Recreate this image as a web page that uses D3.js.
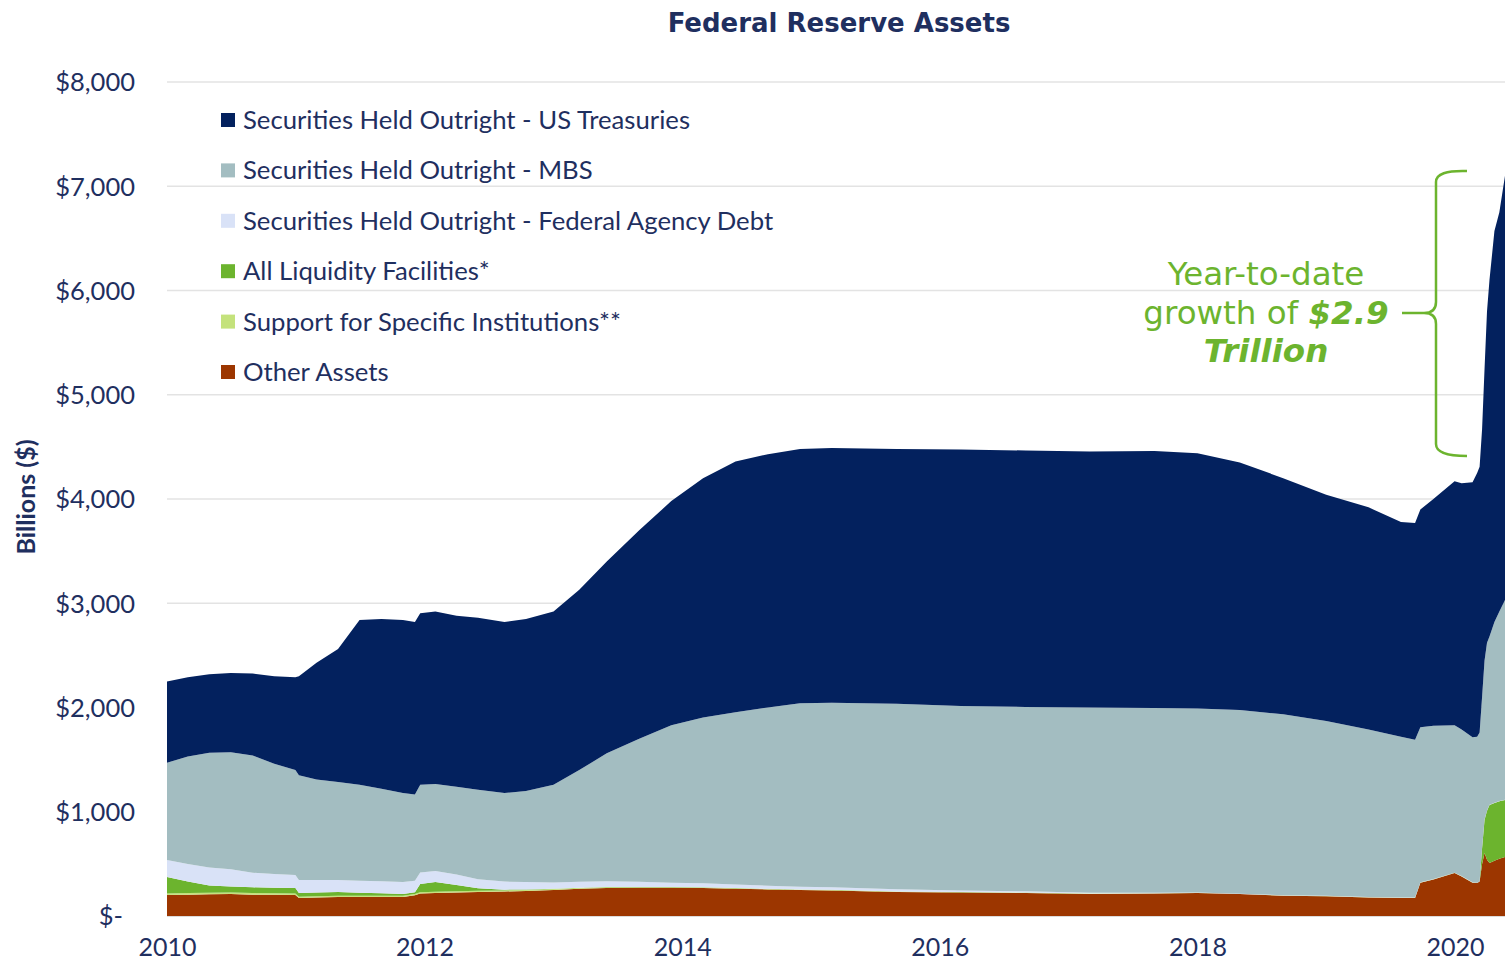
<!DOCTYPE html>
<html>
<head>
<meta charset="utf-8">
<script src="https://cdn.jsdelivr.net/npm/d3@7"></script>
<style>
  html, body { margin: 0; padding: 0; background: #ffffff; overflow: hidden; }
  svg { display: block; }
</style>
</head>
<body>
<svg id="chart" width="1505" height="964"></svg>
<script>
// ---------------- DATA (billions of dollars) ----------------
const dates = ["2010-01-01","2010-03-01","2010-05-01","2010-07-01","2010-09-01","2010-11-01","2010-12-31",
  "2011-01-10","2011-03-01","2011-05-01","2011-07-01","2011-09-01","2011-11-01","2011-12-05","2011-12-20",
  "2012-02-01","2012-04-01","2012-06-01","2012-08-15","2012-10-15","2013-01-01","2013-03-15","2013-06-01",
  "2013-09-01","2013-12-01","2014-03-01","2014-06-01","2014-09-01","2014-12-01","2015-03-01","2015-09-01",
  "2016-03-01","2016-09-01","2017-03-01","2017-09-01","2018-01-01","2018-05-01","2018-09-01","2019-01-01",
  "2019-05-01","2019-08-01","2019-09-10","2019-09-25","2019-11-01","2019-12-31","2020-01-20","2020-02-20",
  "2020-03-04","2020-03-11","2020-03-18","2020-03-25","2020-04-01","2020-04-08","2020-04-22","2020-05-06","2020-05-22"];

const otherAssets = [201,205,208,211,205,203,201,173,178,182,182,182,182,200,215,221,225,230,235,240,250,262,268,270,270,
  268,262,255,249,245,230,225,220,211,215,221,210,195,190,178,173,173,320,350,412,380,320,317,330,500,604,540,508,530,550,566];
const supportInstitutions = [15,15,15,15,15,15,15,12,12,12,12,12,12,12,12,12,12,12,10,10,8,8,8,6,6,6,5,5,5,5,5,4,4,4,3,
  2,2,2,2,2,2,2,2,2,2,2,1,1,1,0,0,0,0,0,0,0];
const liquidityFacilities = [158,110,70,58,55,54,53,36,36,36,30,25,17,15,80,93,60,25,8,5,3,2,2,2,2,1,1,1,1,1,1,1,1,1,1,
  1,0,0,0,0,0,0,0,0,0,0,0,0,0,150,320,470,557,555,550,547];
const agencyDebt = [163,168,172,165,140,130,124,124,120,116,115,115,115,112,110,106,100,86,77,70,60,57,55,50,42,38,35,30,
  26,24,20,15,12,8,4,2,2,2,2,2,2,2,2,2,2,2,2,2,2,2,2,2,2,2,2,2];
const mbs = [933,1032,1100,1121,1125,1058,1007,1005,964,939,921,886,854,826,843,833,843,857,850,875,939,1071,1227,1372,1510,
  1592,1652,1709,1759,1770,1779,1770,1768,1776,1772,1764,1761,1736,1676,1608,1543,1513,1486,1471,1414,1406,1392,1400,1427,
  1448,1524,1608,1613,1733,1818,1915];
const treasuries = [780,760,755,760,785,840,890,950,1120,1275,1580,1630,1660,1655,1645,1655,1640,1650,1640,1650,1660,1730,
  1840,2000,2150,2295,2405,2430,2440,2445,2445,2460,2460,2455,2465,2450,2375,2265,2170,2130,2060,2080,2090,2175,2340,2360,
  2445,2530,2550,2570,2800,3180,3420,3750,3830,4070];

const seriesNames = ["Securities Held Outright - US Treasuries","Securities Held Outright - MBS",
  "Securities Held Outright - Federal Agency Debt","All Liquidity Facilities*",
  "Support for Specific Institutions**","Other Assets"];
const yTicks = [0,1000,2000,3000,4000,5000,6000,7000,8000];
const xTickYears = [2010,2012,2014,2016,2018,2020];
const title = "Federal Reserve Assets";
const yTitle = "Billions ($)";

// ---------------- BUILD ----------------
const parse = d3.timeParse("%Y-%m-%d");
const keys = ["other","support","liquidity","agency","mbs","treasuries"];
const colors = {
  treasuries: "#03215e", mbs: "#a3bdc1", agency: "#d9e2f7",
  liquidity: "#6cb42e", support: "#c4e27c", other: "#9c3600"
};
const legendKeys = ["treasuries","mbs","agency","liquidity","support","other"];

const rows = dates.map((d,i) => ({
  date: parse(d), other: otherAssets[i], support: supportInstitutions[i], liquidity: liquidityFacilities[i],
  agency: agencyDebt[i], mbs: mbs[i], treasuries: treasuries[i]
}));

const svg = d3.select("#chart");
const navy = "#1f2f5f";
const labelFont = "Lato, 'Open Sans', sans-serif";

const x = d3.scaleTime().domain([parse("2010-01-01"), parse("2020-05-22")]).range([167, 1505]);
const y = d3.scaleLinear().domain([0, 8000]).range([916, 82]);

// gridlines
svg.append("g").selectAll("line").data(yTicks).join("line")
  .attr("x1", 167).attr("x2", 1505)
  .attr("y1", d => y(d)).attr("y2", d => y(d))
  .attr("stroke", d => d === 0 ? "#cfcfcf" : "#e3e3e3").attr("stroke-width", 1.5);

// stacked areas
const stack = d3.stack().keys(keys);
const layers = stack(rows);
const area = d3.area().x(d => x(d.data.date)).y0(d => y(d[0])).y1(d => y(d[1]));
svg.append("g").selectAll("path").data(layers).join("path")
  .attr("d", area).attr("fill", d => colors[d.key]);

// y axis labels
const yAxis = d3.axisLeft(y).tickValues(yTicks).tickSize(0).tickPadding(0)
  .tickFormat(d => d === 0 ? "$-" : "$" + d3.format(",")(d));
const gy = svg.append("g").attr("transform", "translate(135,0)").call(yAxis);
gy.select(".domain").remove();
gy.selectAll("text").attr("fill", navy).style("font-family", labelFont)
  .style("font-size", "25.5px").attr("dy", "0.35em")
  .attr("x", d => d === 0 ? -12 : 0);

// x axis labels
const xAxis = d3.axisBottom(x).tickValues(xTickYears.map(yr => new Date(yr, 0, 1)))
  .tickSize(0).tickPadding(0).tickFormat(d3.timeFormat("%Y"));
const gx = svg.append("g").attr("transform", "translate(0,947)").call(xAxis);
gx.select(".domain").remove();
gx.selectAll("text").attr("fill", navy).style("font-family", labelFont)
  .style("font-size", "25px").attr("y", 0).attr("dy", "0.35em");

// title
svg.append("text").attr("x", 839).attr("y", 32).attr("text-anchor", "middle")
  .attr("fill", navy).style("font-family", "'DejaVu Sans', Verdana, sans-serif")
  .style("font-weight", "bold").style("font-size", "26px").text(title);

// y title
svg.append("text").attr("transform", "translate(35,497) rotate(-90)").attr("text-anchor", "middle")
  .attr("fill", navy).style("font-family", labelFont)
  .style("font-weight", "bold").style("font-size", "25px").text(yTitle);

// legend
const lg = svg.append("g");
legendKeys.forEach((k, i) => {
  const cy = 120 + i * 50.4;
  lg.append("rect").attr("x", 221).attr("y", cy - 7).attr("width", 14).attr("height", 14).attr("fill", colors[k]);
  lg.append("text").attr("x", 243).attr("y", cy).attr("dy", "0.35em").attr("fill", navy)
    .style("font-family", labelFont).style("font-size", "25.7px").text(seriesNames[i]);
});

// annotation
const green = "#6cb42e";
const ann = svg.append("g").attr("fill", green).style("font-family", "'DejaVu Sans', Verdana, sans-serif")
  .style("font-size", "32.5px").attr("text-anchor", "middle");
ann.append("text").attr("x", 1266).attr("y", 285).text("Year-to-date");
const l2 = ann.append("text").attr("x", 1266).attr("y", 324);
l2.append("tspan").text("growth of ");
l2.append("tspan").style("font-weight", "bold").style("font-style", "italic").text("$2.9");
ann.append("text").attr("x", 1266).attr("y", 362).style("font-weight", "bold").style("font-style", "italic").text("Trillion");

svg.append("path")
  .attr("d", "M1467,171 Q1436,170 1436,182 L1436,302 Q1436,313 1424,313 L1402,313 M1424,313 Q1436,313 1436,324 L1436,444 Q1436,456 1467,456")
  .attr("fill", "none").attr("stroke", green).attr("stroke-width", 2.5);
</script>
</body>
</html>
